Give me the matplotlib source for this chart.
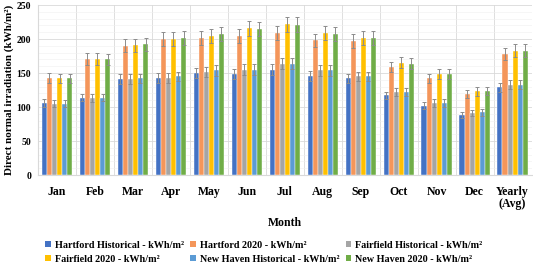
import numpy as np
import matplotlib
matplotlib.use("Agg")
import matplotlib.pyplot as plt
from matplotlib.patches import Patch
from matplotlib.ticker import MultipleLocator

plt.rcParams['font.family'] = ['Liberation Serif', 'DejaVu Serif']
plt.rcParams['font.weight'] = 'bold'

# ---- data (kWh/m2) ----
months = ["Jan", "Feb", "Mar", "Apr", "May", "Jun", "Jul", "Aug", "Sep",
          "Oct", "Nov", "Dec", "Yearly\n(Avg)"]
hartford_hist = [106, 114, 141, 143, 150, 148, 155, 146, 142, 117, 102, 88, 129]
hartford_2020 = [143, 171, 190, 200, 202, 205, 209, 198, 197, 159, 142, 119, 178]
fairfield_hist = [105, 113, 141, 143, 152, 155, 164, 154, 145, 122, 106, 91, 133]
fairfield_2020 = [142, 171, 191, 200, 205, 216, 222, 209, 202, 165, 148, 123, 183]
newhaven_hist = [105, 114, 142, 145, 154, 155, 164, 154, 145, 122, 106, 92, 133]
newhaven_2020 = [142, 170, 192, 202, 208, 215, 221, 208, 202, 164, 148, 124, 183]

series = [
    ("Hartford Historical - kWh/m²", hartford_hist, "#4472C4"),
    ("Hartford 2020 - kWh/m²", hartford_2020, "#F4965A"),
    ("Fairfield Historical - kWh/m²", fairfield_hist, "#A5A5A5"),
    ("Fairfield 2020 - kWh/m²", fairfield_2020, "#FFC000"),
    ("New Haven Historical - kWh/m²", newhaven_hist, "#5B9BD5"),
    ("New Haven 2020 - kWh/m²", newhaven_2020, "#70AD47"),
]

fig = plt.figure(figsize=(5.33, 2.66), dpi=100)
ax = fig.add_axes([0.0713, 0.342, 0.926, 0.639])

x = np.arange(len(months))
w = 0.133
for i, (name, vals, col) in enumerate(series):
    vals = np.array(vals, dtype=float)
    ax.bar(x + (i - 2.5) * w, vals, w, color=col, edgecolor="white", linewidth=0.3,
           yerr=vals * 0.05, error_kw=dict(ecolor="#8C8C8C", elinewidth=0.7,
                                           capsize=1.5, capthick=0.7), zorder=3)

ax.set_xlim(-0.5, len(months) - 0.5)
ax.set_ylim(0, 250)
ax.yaxis.set_major_locator(MultipleLocator(50))
ax.yaxis.set_minor_locator(MultipleLocator(10))
ax.set_xticks(x)
ax.set_xticklabels(months, fontsize=8.5, fontweight="bold", linespacing=1.0)
ax.set_xticks(np.arange(len(months) + 1) - 0.5, minor=True)
ax.tick_params(axis="y", labelsize=7, length=0, which="both", pad=5)
ax.tick_params(axis="x", length=0, which="both", pad=8)
ax.grid(axis="y", which="major", color="#D9D9D9", linewidth=0.6, zorder=0)
ax.grid(axis="y", which="minor", color="#F0F0F0", linewidth=0.4, zorder=0)
ax.grid(axis="x", which="minor", color="#D9D9D9", linewidth=0.6, zorder=0)
for s in ["top", "right"]:
    ax.spines[s].set_visible(False)
ax.spines["left"].set_color("#D9D9D9")
ax.spines["bottom"].set_color("#D9D9D9")

ax.set_ylabel("Direct normal irradiation (kWh/m²)", fontsize=8, fontweight="bold", labelpad=2)
ax.set_xlabel("Month", fontsize=8.5, fontweight="bold", labelpad=5)

order = [0, 3, 1, 4, 2, 5]
handles = [Patch(facecolor=series[k][2], label=series[k][0]) for k in order]
fig.legend(handles=handles, ncol=3, loc="lower left", bbox_to_anchor=(0.068, -0.025),
           frameon=False, handlelength=0.55, handleheight=0.55,
           handletextpad=0.4, columnspacing=0.6, labelspacing=0.45,
           prop=dict(weight="bold", size=7.3))

fig.savefig("out.png", dpi=100)
